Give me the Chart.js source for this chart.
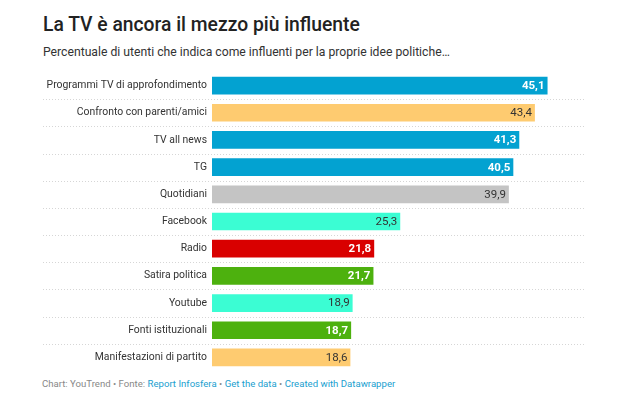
<!DOCTYPE html>
<html>
<head>
<meta charset="utf-8">
<script src="https://cdn.jsdelivr.net/npm/chart.js@4"></script>
<style>
  html, body { margin: 0; padding: 0; background: #fff; }
  body { width: 620px; height: 414px; position: relative; overflow: hidden; font-family: Roboto, "Noto Sans", sans-serif; }
  .title { position: absolute; left: 43px; top: 15px; font-size: 19.3px; line-height: 20px; font-weight: 500; color: #222; white-space: nowrap; }
  .subtitle { position: absolute; left: 43px; top: 46px; font-size: 12.2px; line-height: 13px; color: #333; white-space: nowrap; }
  .chart { position: absolute; left: 0; top: 72px; width: 620px; height: 299px; }
  .footer { position: absolute; left: 42px; top: 379px; font-size: 9.6px; line-height: 10px; color: #888; white-space: nowrap; }
  .footer a { color: #1aa0cf; text-decoration: none; }
</style>
</head>
<body>
<div class="title">La TV è ancora il mezzo più influente</div>
<div class="subtitle">Percentuale di utenti che indica come influenti per la proprie idee politiche…</div>
<div class="chart"><canvas id="mediaChart"></canvas></div>
<div class="footer">Chart: YouTrend • Fonte: <a>Report Infosfera</a> • <a>Get the data</a> • <a>Created with Datawrapper</a></div>

<script>
const categories = [
    "Programmi TV di approfondimento",
    "Confronto con parenti/amici",
    "TV all news",
    "TG",
    "Quotidiani",
    "Facebook",
    "Radio",
    "Satira politica",
    "Youtube",
    "Fonti istituzionali",
    "Manifestazioni di partito"
];
const values = [45.1, 43.4, 41.3, 40.5, 39.9, 25.3, 21.8, 21.7, 18.9, 18.7, 18.6];

const BLUE = '#03a2d1', ORANGE = '#fecb70', GREY = '#c4c4c4', AQUA = '#3bfdd3', RED = '#d90000', GREEN = '#4db10e';
const barColors = [BLUE, ORANGE, BLUE, BLUE, GREY, AQUA, RED, GREEN, AQUA, GREEN, ORANGE];
const labelColors = ['#fff', '#333', '#fff', '#fff', '#333', '#333', '#fff', '#fff', '#333', '#fff', '#333'];

// dotted separators between rows, running from under the labels to the chart edge
const rowLines = {
    id: 'rowLines',
    beforeDatasetsDraw(chart) {
        const { ctx, chartArea, scales: { y } } = chart;
        ctx.save();
        ctx.strokeStyle = '#d6d6d6';
        ctx.lineWidth = 1;
        ctx.setLineDash([1, 2]);
        for (let i = 0; i < categories.length - 1; i++) {
            const py = Math.round((y.getPixelForValue(i) + y.getPixelForValue(i + 1)) / 2) + 0.5;
            ctx.beginPath();
            ctx.moveTo(43, py);
            ctx.lineTo(chartArea.right, py);
            ctx.stroke();
        }
        ctx.restore();
    }
};

// value labels inside the end of each bar
const valueLabels = {
    id: 'valueLabels',
    afterDatasetsDraw(chart) {
        const { ctx } = chart;
        const meta = chart.getDatasetMeta(0);
        ctx.save();
        ctx.textAlign = 'right';
        ctx.textBaseline = 'middle';
        meta.data.forEach((bar, i) => {
            const white = labelColors[i] === '#fff';
            ctx.font = (white ? '700 ' : '400 ') + '11.5px Roboto, sans-serif';
            ctx.fillStyle = labelColors[i];
            ctx.fillText(values[i].toFixed(1).replace('.', ','), bar.x - 3, bar.y + 0.5);
        });
        ctx.restore();
    }
};

new Chart(document.getElementById('mediaChart'), {
    type: 'bar',
    data: {
        labels: categories,
        datasets: [{
            data: values,
            backgroundColor: barColors,
            borderWidth: 0,
            barPercentage: 0.65,
            categoryPercentage: 1
        }]
    },
    options: {
        indexAxis: 'y',
        responsive: true,
        maintainAspectRatio: false,
        animation: false,
        layout: { padding: { left: 0, right: 36, top: 0, bottom: 0 } },
        plugins: {
            legend: { display: false },
            tooltip: { enabled: false }
        },
        scales: {
            x: {
                display: false,
                min: 0,
                max: 50
            },
            y: {
                afterFit(scale) {
                    scale.width = 212;
                    scale.paddingTop = 0;
                    scale.paddingBottom = 0;
                },
                grid: { display: false, drawTicks: false },
                border: { display: false },
                ticks: {
                    color: '#333',
                    padding: 5,
                    font: { family: 'Roboto, sans-serif', size: 10.4 }
                }
            }
        }
    },
    plugins: [rowLines, valueLabels]
});
</script>
</body>
</html>
